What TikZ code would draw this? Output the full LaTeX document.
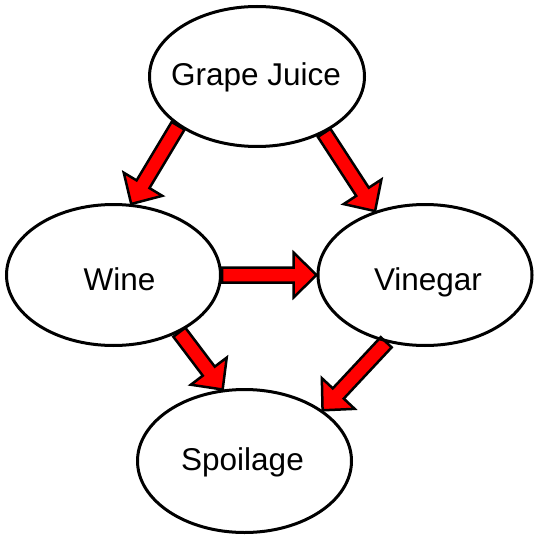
\documentclass[tikz,border=0pt]{standalone}
\usepackage{fontspec}
\setmainfont{Liberation Sans}
\usetikzlibrary{shapes.geometric,calc,backgrounds}
\tikzset{
  ell/.style={ellipse,draw=black,line width=3pt,inner sep=0pt},
  lbl/.style={anchor=base,inner sep=0pt,font=\fontsize{31.5}{38}\selectfont},
  blockarr/.style={fill=red,draw=black,line width=2.5pt,line join=miter}
}
\newcommand\myblockarrow[2]{%
  \coordinate (bT) at (#1);
  \coordinate (bP) at (#2);
  \coordinate (bB) at ($(bP)!23pt!(bT)$);
  \draw[blockarr] ($(bT)!7.5pt!90:(bP)$) -- ($(bB)!7.5pt!90:(bP)$) -- ($(bB)!22.5pt!90:(bP)$) -- (bP)
     -- ($(bB)!22.5pt!-90:(bP)$) -- ($(bB)!7.5pt!-90:(bP)$) -- ($(bT)!7.5pt!-90:(bP)$) -- cycle;}
\begin{document}
\begin{tikzpicture}[x=1pt,y=-1pt]
\useasboundingbox (0,0) rectangle (538,540);
\node[ell,minimum width=215pt,minimum height=140pt] (gj) at (257,76.5) {};
\node[ell,minimum width=214pt,minimum height=141pt] (wine) at (113.5,275) {};
\node[ell,minimum width=214pt,minimum height=141pt] (vin) at (425,275) {};
\node[ell,minimum width=214pt,minimum height=143pt] (sp) at (244.5,461) {};
\node[lbl] (gjt) at (256,85.5) {Grape Juice};
\node[lbl] (winet) at (119.5,290.5) {Wine};
\node[lbl] (vint) at (428,290.5) {Vinegar};
\node[lbl] (spt) at (242.5,470.5) {Spoilage};
\begin{pgfonlayer}{background}
\myblockarrow{gj.212}{wine.76}
\myblockarrow{gj.320}{vin.128}
\myblockarrow{wine.east}{vin.west}
\myblockarrow{wine.319}{sp.107}
\myblockarrow{vin.240}{sp.33}
\end{pgfonlayer}
\end{tikzpicture}
\end{document}
